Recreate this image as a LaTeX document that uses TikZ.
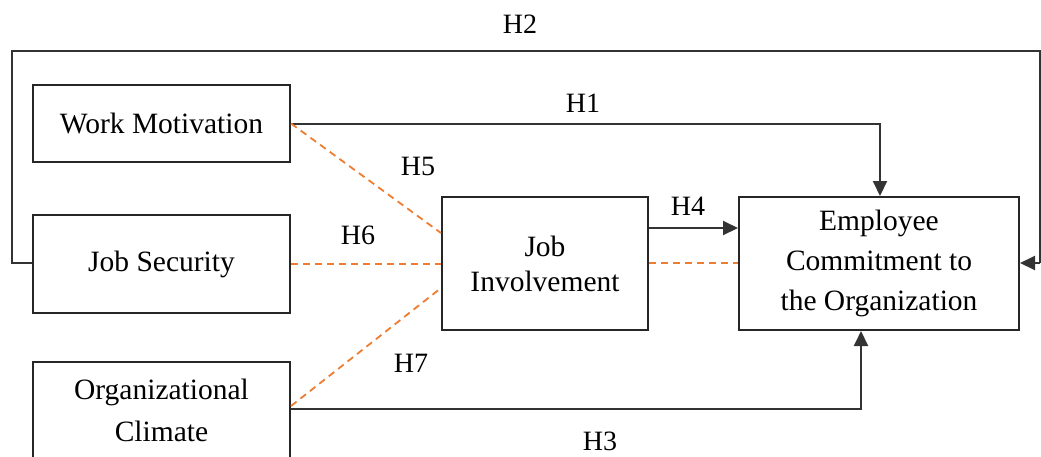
\documentclass[tikz,border=0pt]{standalone}
\usepackage{fontspec}
\setmainfont{Liberation Serif}
\usetikzlibrary{arrows.meta}
\definecolor{dorange}{RGB}{237,125,49}
\begin{document}
\begin{tikzpicture}[x=1pt,y=-1pt,
  box/.style={draw=black!85,line width=2pt,rectangle,align=center,inner sep=0pt,
    font=\fontsize{29.5}{40}\selectfont},
  lab/.style={font=\fontsize{28}{32}\selectfont,inner sep=0pt},
  conn/.style={draw=black!80,line width=2pt},
  arr/.style={conn,-{Triangle[length=15pt,width=14pt]}},
  dsh/.style={draw=dorange,line width=1.8pt,dash pattern=on 7pt off 5pt}]
\useasboundingbox (0,0) rectangle (1041,456);
\node[box,minimum width=257pt,minimum height=77pt] (wm) at (161.5,123.5) {Work Motivation};
\node[box,minimum width=257pt,minimum height=98pt] (js) at (161.5,264) {Job Security};
\node[box,minimum width=257pt,minimum height=96pt] (oc) at (161.5,410) {Organizational\\[2pt]Climate};
\node[box,minimum width=206pt,minimum height=133pt] (ji) at (545,263.5) {Job\\[-5pt]Involvement};
\node[box,minimum width=280pt,minimum height=133pt] (ec) at (879,263.5) {Employee\\Commitment to\\the Organization};
\coordinate (tl) at (12,51);
\coordinate (tr) at (1040,51);
\coordinate (rr) at (1040,263);
% H2
\draw[conn] (js.west |- 0,263) -| (tl) -- (tr) -- (rr);
\draw[arr] (rr) -- (ec.east |- rr);
% H1
\draw[arr] (wm.east) -| (ec.north -| 880,0);
% H3
\draw[arr] (oc.east |- 0,409) -| (ec.south -| 861,0);
% H4
\draw[arr] (ji.east |- 0,228) -- (ec.west |- 0,228);
% dashed
\draw[dsh] (wm.east) -- (ji.west |- 0,233);
\draw[dsh] (js.east |- 0,264) -- (ji.west |- 0,264);
\draw[dsh] (oc.east |- 0,406) -- (ji.west |- 0,288);
\draw[dsh] (ji.east |- 0,263) -- (ec.west |- 0,263);
% labels
\node[lab] (h2) at (520,24) {H2};
\node[lab] (h1) at (583,103) {H1};
\node[lab] (h5) at (418,166) {H5};
\node[lab] (h6) at (358,235) {H6};
\node[lab] (h4) at (688,206) {H4};
\node[lab] (h7) at (411,363) {H7};
\node[lab] (h3) at (600,441) {H3};
\end{tikzpicture}
\end{document}
